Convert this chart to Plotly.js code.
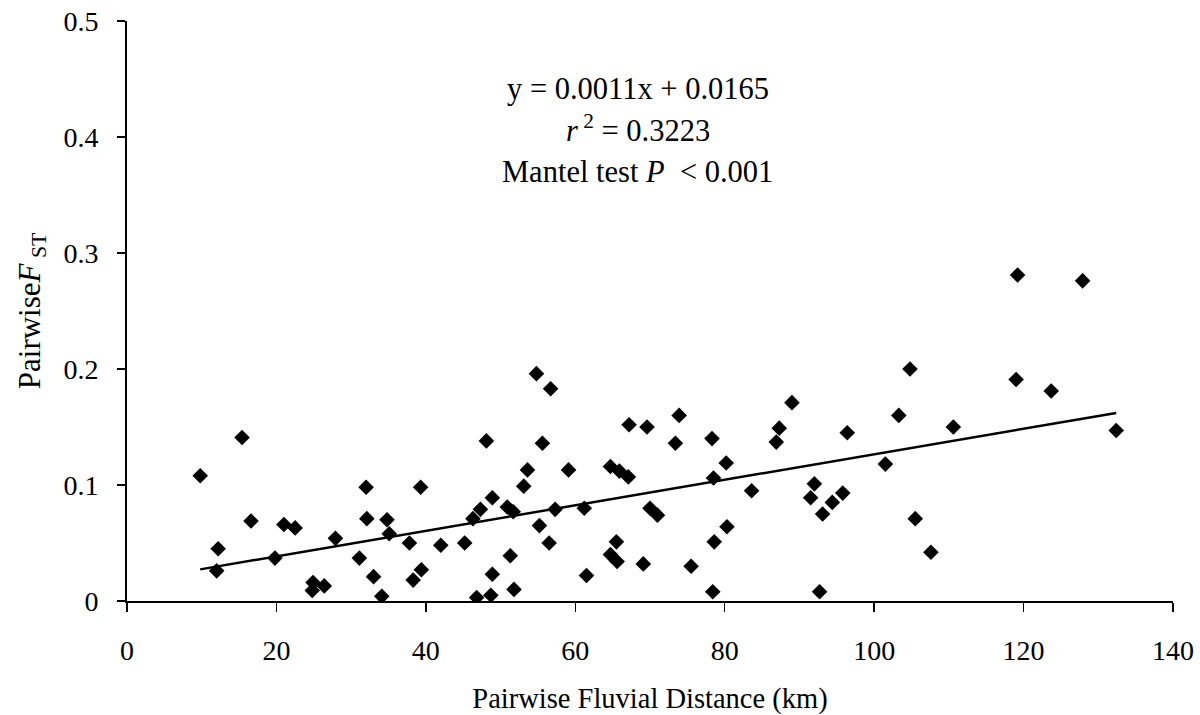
<!DOCTYPE html>
<html>
<head>
<meta charset="utf-8">
<script src="https://cdn.plot.ly/plotly-3.0.1.min.js"></script>
<style>html,body{margin:0;padding:0;background:#fff;}#chart{width:1200px;height:715px;}</style>
</head>
<body>
<div id="chart"></div>
<script>
// Pairwise fluvial distance (km)
const distanceKm = [9.8, 15.4, 12.2, 12.0, 16.6, 21.0, 22.5, 19.8, 24.9, 24.8, 26.4, 27.9, 32.0, 32.1, 34.8, 35.1, 31.1, 33.0, 34.1,
  39.3, 37.8, 39.4, 38.3, 42.0, 45.2, 46.3, 47.3, 48.1, 48.9, 46.8, 48.7, 48.9, 51.3, 51.8, 50.9, 51.7, 53.1, 53.6, 54.8, 56.7,
  55.6, 55.2, 56.5, 57.3, 59.1, 61.2, 61.5, 64.7, 65.9, 67.1, 67.2, 69.6, 73.4, 73.9, 65.5, 64.7, 65.6, 69.1, 70.0, 71.0,
  78.3, 80.2, 78.5, 75.5, 78.4, 78.6, 80.3, 83.6, 87.3, 86.9, 89.0, 92.0, 91.5, 94.4, 95.8, 93.1, 92.7, 96.4, 101.5, 103.3,
  104.8, 105.5, 107.6, 110.6, 119.2, 127.9, 119.0, 123.7, 132.4];
// Pairwise FST
const pairwiseFst = [0.108, 0.141, 0.045, 0.026, 0.069, 0.066, 0.063, 0.037, 0.016, 0.009, 0.013, 0.054, 0.098, 0.071, 0.070, 0.058, 0.037, 0.021, 0.004,
  0.098, 0.050, 0.027, 0.018, 0.048, 0.050, 0.071, 0.079, 0.138, 0.089, 0.003, 0.005, 0.023, 0.039, 0.010, 0.081, 0.077, 0.099, 0.113, 0.196, 0.183,
  0.136, 0.065, 0.050, 0.079, 0.113, 0.080, 0.022, 0.116, 0.112, 0.107, 0.152, 0.150, 0.136, 0.160, 0.051, 0.040, 0.034, 0.032, 0.080, 0.074,
  0.140, 0.119, 0.106, 0.030, 0.008, 0.051, 0.064, 0.095, 0.149, 0.137, 0.171, 0.101, 0.089, 0.085, 0.093, 0.075, 0.008, 0.145, 0.118, 0.160,
  0.200, 0.071, 0.042, 0.150, 0.281, 0.276, 0.191, 0.181, 0.147];
// Linear trend line: y = 0.0011x + 0.0165
const trendSlope = 0.0011;
const trendIntercept = 0.0165;
const trendX = [Math.min(...distanceKm), Math.max(...distanceKm)];
const trendY = trendX.map(x => trendSlope * x + trendIntercept);

const annotationLines = [
  'y = 0.0011x + 0.0165',
  '<i>r</i><sup> 2</sup> = 0.3223',
  'Mantel test <i>P</i>  &lt; 0.001'
];

const FONT = 'Liberation Serif, Times New Roman, serif';

const traces = [
  {
    x: distanceKm, y: pairwiseFst, type: 'scatter', mode: 'markers',
    marker: {symbol: 'diamond', size: 12, color: '#000'},
    hoverinfo: 'x+y', showlegend: false
  },
  {
    x: trendX, y: trendY, type: 'scatter', mode: 'lines',
    line: {color: '#000', width: 2.5},
    hoverinfo: 'skip', showlegend: false
  }
];

const annYs = [0.882, 0.815, 0.740];
const layout = {
  width: 1200, height: 715,
  margin: {l: 127, r: 27, t: 21, b: 114},
  paper_bgcolor: '#fff', plot_bgcolor: '#fff',
  font: {family: FONT, color: '#000', size: 28},
  xaxis: {
    range: [0, 140], dtick: 20, tick0: 0,
    showgrid: false, zeroline: false,
    showline: true, linecolor: '#000', linewidth: 2,
    ticks: 'outside', ticklen: 9, tickwidth: 1.5, tickcolor: '#000',
    tickfont: {family: FONT, size: 28, color: '#000'},
    ticklabelstandoff: 14,
    title: {text: 'Pairwise Fluvial Distance (km)', font: {family: FONT, size: 28.5, color: '#000'}, standoff: 28}
  },
  yaxis: {
    range: [0, 0.5], dtick: 0.1, tick0: 0,
    showgrid: false, zeroline: false,
    showline: true, linecolor: '#000', linewidth: 2,
    ticks: 'outside', ticklen: 8, tickwidth: 1.5, tickcolor: '#000',
    tickfont: {family: FONT, size: 28, color: '#000'},
    ticklabelstandoff: 13,
    title: {text: 'Pairwise<i>F</i><sub> ST</sub>', font: {family: FONT, size: 31, color: '#000'}, standoff: 14}
  },
  annotations: annotationLines.map((t, i) => ({
    text: t, xref: 'paper', yref: 'paper', x: 0.4885, y: annYs[i],
    xanchor: 'center', yanchor: 'middle', showarrow: false,
    font: {family: FONT, size: 30.5, color: '#000'}
  }))
};

Plotly.newPlot('chart', traces, layout, {displayModeBar: false, staticPlot: true});
</script>
</body>
</html>
